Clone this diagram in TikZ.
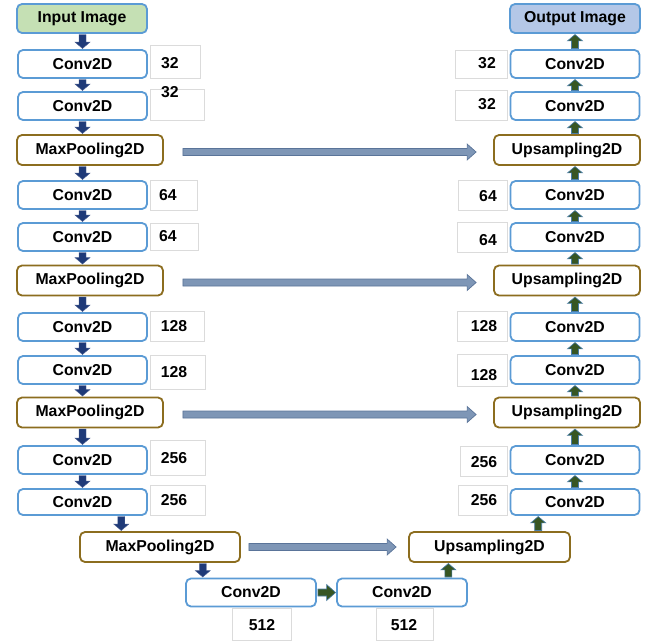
\documentclass[tikz,border=0pt]{standalone}
\usepackage{fontspec}
\setmainfont{Liberation Sans}
\usetikzlibrary{calc}
\definecolor{convb}{HTML}{5B9BD5}
\definecolor{poolb}{HTML}{8C6D1F}
\definecolor{infill}{HTML}{C5E0B4}
\definecolor{outfill}{HTML}{B4C7E7}
\definecolor{navyarr}{HTML}{1F3A78}
\definecolor{greenarr}{HTML}{375623}
\definecolor{greenedge}{HTML}{4A7EA8}
\definecolor{skipfill}{HTML}{7E96B6}
\definecolor{skipedge}{HTML}{5A7499}
\tikzset{
  txt/.style={font=\bfseries\fontsize{15.8}{18}\selectfont, text=black},
  conv/.style={txt, draw=convb, line width=1.8pt, fill=white, rounded corners=5pt, minimum width=129pt, minimum height=28pt, inner sep=0pt},
  io/.style={conv, minimum width=130pt, minimum height=29pt},
  pool/.style={txt, draw=poolb, line width=1.8pt, fill=white, rounded corners=5pt, minimum width=146pt, minimum height=30pt, inner sep=0pt},
  lbox/.style={draw=black!14, line width=0.6pt, fill=white, inner sep=0pt},
  num/.style={txt, inner sep=0pt},
  downa/.style={fill=navyarr, draw=navyarr!80!white, line width=0.4pt},
  upa/.style={fill=greenarr, draw=greenedge, line width=0.6pt},
  skipa/.style={fill=skipfill, draw=skipedge, line width=0.7pt},
}
% vertical down block arrow
\newcommand{\darr}[3][downa]{\filldraw[#1] let \p1=(#2), \p2=(#3) in
  (\x1-3.5pt,\y1-0.6pt) -- (\x1+3.5pt,\y1-0.6pt) -- (\x1+3.5pt,\y2+7pt) -- (\x1+7.5pt,\y2+7pt) -- (\x1,\y2+0.6pt) -- (\x1-7.5pt,\y2+7pt) -- (\x1-3.5pt,\y2+7pt) -- cycle;}
% vertical up block arrow
\newcommand{\uarr}[3][upa]{\filldraw[#1] let \p1=(#2), \p2=(#3) in
  (\x1-3.5pt,\y1+0.6pt) -- (\x1+3.5pt,\y1+0.6pt) -- (\x1+3.5pt,\y2-7pt) -- (\x1+7.5pt,\y2-7pt) -- (\x1,\y2-0.6pt) -- (\x1-7.5pt,\y2-7pt) -- (\x1-3.5pt,\y2-7pt) -- cycle;}
% horizontal right block arrow
\newcommand{\rarr}[3][skipa]{\filldraw[#1] let \p1=(#2), \p2=(#3) in
  (\x1,\y1+3.5pt) -- (\x2-9pt,\y1+3.5pt) -- (\x2-9pt,\y1+8pt) -- (\x2,\y1) -- (\x2-9pt,\y1-8pt) -- (\x2-9pt,\y1-3.5pt) -- (\x1,\y1-3.5pt) -- cycle;}
% label box: name, x1,y1,x2,y2, tx,ty, text
\newcommand{\lab}[8]{\node[lbox,minimum width={#4-#2},minimum height={#5-#3}] (#1b) at ({(#2+#4)/2},{(#3+#5)/2}) {};
  \node[num] (#1) at (#6,#7) {#8};}
\begin{document}
\begin{tikzpicture}[x=1pt,y=-1pt]
\useasboundingbox[fill=white] (0,0) rectangle (662,641);
% label boxes
\lab{la}{150}{45}{200}{78}{170}{63}{32}
\lab{lb}{150}{89}{204}{120}{170}{92}{32}
\lab{lc}{150}{180}{197}{210}{168}{195}{64}
\lab{ld}{150}{223}{198}{250}{168}{236}{64}
\lab{le}{150}{311}{204}{341}{174}{326}{128}
\lab{lf}{150}{355}{205}{389}{174}{372}{128}
\lab{lg}{150}{440}{205}{475}{174}{458}{256}
\lab{lh}{150}{485}{205}{515}{174}{500}{256}
\lab{li}{232}{608}{291}{640}{262}{625}{512}
\lab{lj}{376}{608}{433}{640}{404}{625}{512}
\lab{ra}{455}{50}{507}{78}{487}{63}{32}
\lab{rb}{455}{90}{507}{120}{487}{104}{32}
\lab{rc}{458}{180}{507}{210}{488}{196}{64}
\lab{rd}{457}{222}{507}{252}{488}{240}{64}
\lab{re}{457}{311}{507}{341}{484}{326}{128}
\lab{rf}{457}{354}{507}{386}{484}{375}{128}
\lab{rg}{460}{446}{507}{476}{484}{462}{256}
\lab{rh}{458}{485}{507}{515}{484}{500}{256}
% left column
\node[io, fill=infill] (in) at (82,18.5) {Input Image};
\node[conv] (L1) at (82.5,64) {Conv2D};
\node[conv] (L2) at (82.5,106) {Conv2D};
\node[pool] (P1) at (90,150) {MaxPooling2D};
\node[conv] (L3) at (82.5,195) {Conv2D};
\node[conv] (L4) at (82.5,237) {Conv2D};
\node[pool] (P2) at (90,280.5) {MaxPooling2D};
\node[conv] (L5) at (82.5,327) {Conv2D};
\node[conv] (L6) at (82.5,370) {Conv2D};
\node[pool] (P3) at (90,412.5) {MaxPooling2D};
\node[conv] (L7) at (82.5,460) {Conv2D};
\node[conv, minimum height=26pt] (L8) at (82.5,502) {Conv2D};
\node[pool, minimum width=160pt] (P4) at (160,547) {MaxPooling2D};
\node[conv, minimum width=130pt] (B1) at (251,592.5) {Conv2D};
\node[conv, minimum width=130pt] (B2) at (402,592.5) {Conv2D};
\node[pool, minimum width=161pt] (U4) at (489.5,547) {Upsampling2D};
% right column
\node[io, fill=outfill] (out) at (575,18.5) {Output Image};
\node[conv] (R1) at (575,64) {Conv2D};
\node[conv] (R2) at (575,106) {Conv2D};
\node[pool] (U1) at (567,150) {Upsampling2D};
\node[conv] (R3) at (575,195) {Conv2D};
\node[conv] (R4) at (575,237) {Conv2D};
\node[pool] (U2) at (567,280.5) {Upsampling2D};
\node[conv] (R5) at (575,327) {Conv2D};
\node[conv] (R6) at (575,370) {Conv2D};
\node[pool] (U3) at (567,412.5) {Upsampling2D};
\node[conv] (R7) at (575,460) {Conv2D};
\node[conv, minimum height=26pt] (R8) at (575,502) {Conv2D};
% down arrows
\darr{in.south -| L1.north}{L1.north}
\darr{L1.south}{L2.north}
\darr{L2.south}{L2.south |- P1.north}
\darr{L3.north |- P1.south}{L3.north}
\darr{L3.south}{L4.north}
\darr{L4.south}{L4.south |- P2.north}
\darr{L5.north |- P2.south}{L5.north}
\darr{L5.south}{L6.north}
\darr{L6.south}{L6.south |- P3.north}
\darr{L7.north |- P3.south}{L7.north}
\darr{L7.south}{L8.north}
\coordinate (m1) at ($(L8.south)!.5!(P4.north)$);
\darr{m1 |- L8.south}{m1 |- P4.north}
\coordinate (m2) at ($(P4.south)!.47!(B1.north)$);
\darr{m2 |- P4.south}{m2 |- B1.north}
% bottom horizontal
\rarr[upa]{[xshift=1pt]B1.east}{[xshift=-0.5pt]B2.west}
% up arrows
\coordinate (m3) at ($(B2.north)!.53!(U4.south)$);
\uarr{m3 |- B2.north}{m3 |- U4.south}
\coordinate (m4) at ($(U4.north)!.57!(R8.south)$);
\uarr{m4 |- U4.north}{m4 |- R8.south}
\uarr{R8.north}{R7.south}
\uarr{R7.north}{R7.north |- U3.south}
\uarr{R6.south |- U3.north}{R6.south}
\uarr{R6.north}{R5.south}
\uarr{R5.north}{R5.north |- U2.south}
\uarr{R4.south |- U2.north}{R4.south}
\uarr{R4.north}{R3.south}
\uarr{R3.north}{R3.north |- U1.south}
\uarr{R2.south |- U1.north}{R2.south}
\uarr{R2.north}{R1.south}
\uarr{R1.north}{R1.north |- out.south}
% skip connections
\rarr{[xshift=19pt,yshift=-2pt]P1.east}{[xshift=-17pt,yshift=-2pt]U1.west}
\rarr{[xshift=19pt,yshift=-2pt]P2.east}{[xshift=-17pt,yshift=-2pt]U2.west}
\rarr{[xshift=19pt,yshift=-2pt]P3.east}{[xshift=-17pt,yshift=-2pt]U3.west}
\rarr{[xshift=8pt]P4.east}{[xshift=-12pt]U4.west}
\end{tikzpicture}
\end{document}
